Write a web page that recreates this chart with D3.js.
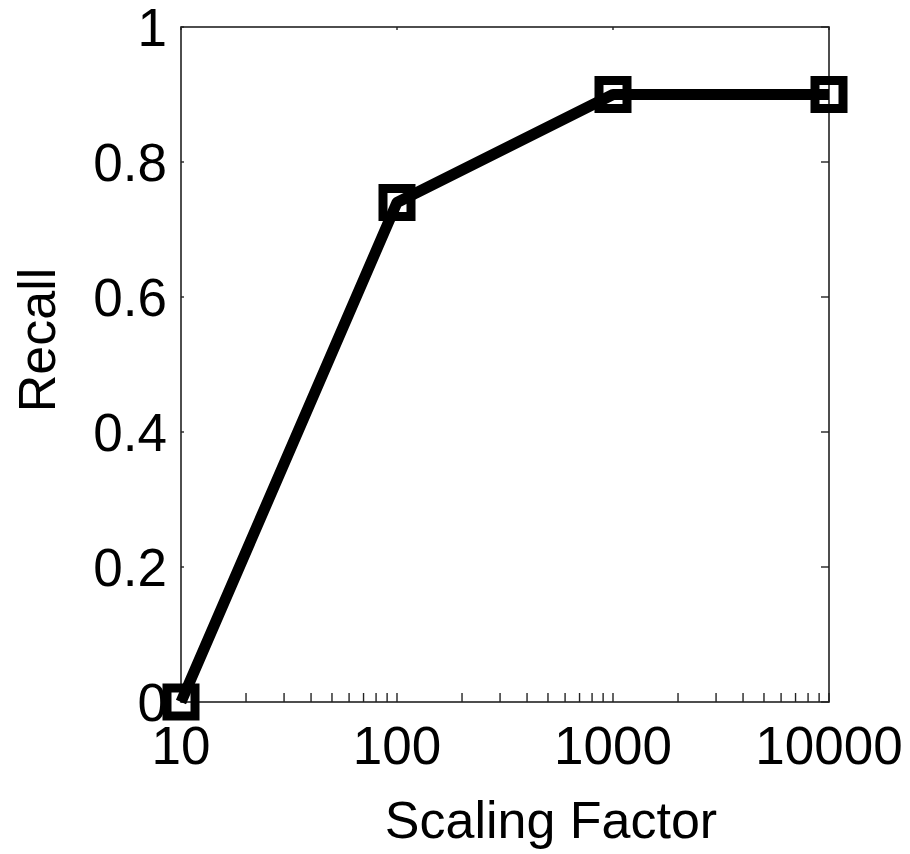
<!DOCTYPE html>
<html>
<head>
<meta charset="utf-8">
<script src="https://cdn.jsdelivr.net/npm/d3@7"></script>
<style>
  body { margin: 0; background: #fff; }
  text { font-family: 'Liberation Sans', Arial, sans-serif; fill: #000; }
</style>
</head>
<body>
<div id="chart"></div>
<script>
// scaling factor vs recall
const scaling = [10, 100, 1000, 10000];
const recall = [0, 0.74, 0.9, 0.9];
const xTicks = [10, 100, 1000, 10000];
const yTicks = [0, 0.2, 0.4, 0.6, 0.8, 1];

const width = 910;
const height = 854;
const margin = { top: 27, right: 81, bottom: 152, left: 181 };
const iw = width - margin.left - margin.right;
const ih = height - margin.top - margin.bottom;

const svg = d3.select('#chart')
  .append('svg')
  .attr('width', width)
  .attr('height', height);

const g = svg.append('g')
  .attr('transform', `translate(${margin.left},${margin.top})`);

const x = d3.scaleLog().domain([10, 10000]).range([0, iw]);
const y = d3.scaleLinear().domain([0, 1]).range([ih, 0]);

// minor ticks for the bottom axis
const minor = [];
[10, 100, 1000].forEach((d) => {
  for (let k = 2; k <= 9; k++) minor.push(d * k);
});

const axisColor = '#222';

// box
g.append('rect')
  .attr('width', iw)
  .attr('height', ih)
  .attr('fill', 'none')
  .attr('stroke', axisColor)
  .attr('stroke-width', 1.6);

// bottom ticks (inside)
g.append('g')
  .selectAll('line')
  .data(minor.concat(xTicks))
  .join('line')
  .attr('x1', (d) => x(d))
  .attr('x2', (d) => x(d))
  .attr('y1', ih)
  .attr('y2', ih - 9)
  .attr('stroke', axisColor)
  .attr('stroke-width', 1.4);

// top ticks
g.append('g')
  .selectAll('line')
  .data(xTicks)
  .join('line')
  .attr('x1', (d) => x(d))
  .attr('x2', (d) => x(d))
  .attr('y1', 0)
  .attr('y2', 3)
  .attr('stroke', axisColor)
  .attr('stroke-width', 1.4);

// left and right ticks
g.append('g')
  .selectAll('line')
  .data(yTicks)
  .join('line')
  .attr('x1', 0)
  .attr('x2', 3)
  .attr('y1', (d) => y(d))
  .attr('y2', (d) => y(d))
  .attr('stroke', axisColor)
  .attr('stroke-width', 1.4);
g.append('g')
  .selectAll('line')
  .data(yTicks)
  .join('line')
  .attr('x1', iw)
  .attr('x2', iw - 8)
  .attr('y1', (d) => y(d))
  .attr('y2', (d) => y(d))
  .attr('stroke', axisColor)
  .attr('stroke-width', 1.4);

// tick labels
g.append('g')
  .selectAll('text')
  .data(xTicks)
  .join('text')
  .attr('x', (d) => x(d))
  .attr('y', ih + 62)
  .attr('text-anchor', 'middle')
  .style('font-size', '53px')
  .text((d) => d);

g.append('g')
  .selectAll('text')
  .data(yTicks)
  .join('text')
  .attr('x', -14)
  .attr('y', (d) => y(d))
  .attr('dy', '0.36em')
  .attr('text-anchor', 'end')
  .style('font-size', '53px')
  .text((d) => d);

// line
const line = d3.line()
  .x((d, i) => x(scaling[i]))
  .y((d) => y(d));

g.append('path')
  .datum(recall)
  .attr('d', line)
  .attr('fill', 'none')
  .attr('stroke', '#000')
  .attr('stroke-width', 11)
  .attr('stroke-linejoin', 'round');

// square markers
g.append('g')
  .selectAll('rect')
  .data(recall)
  .join('rect')
  .attr('x', (d, i) => x(scaling[i]) - 14)
  .attr('y', (d) => y(d) - 14)
  .attr('width', 28)
  .attr('height', 28)
  .attr('fill', 'none')
  .attr('stroke', '#000')
  .attr('stroke-width', 9);

// axis titles
svg.append('text')
  .attr('x', 551)
  .attr('y', 838)
  .attr('text-anchor', 'middle')
  .style('font-size', '52px')
  .text('Scaling Factor');

svg.append('text')
  .attr('transform', 'translate(55,340) rotate(-90)')
  .attr('text-anchor', 'middle')
  .style('font-size', '52px')
  .text('Recall');
</script>
</body>
</html>
